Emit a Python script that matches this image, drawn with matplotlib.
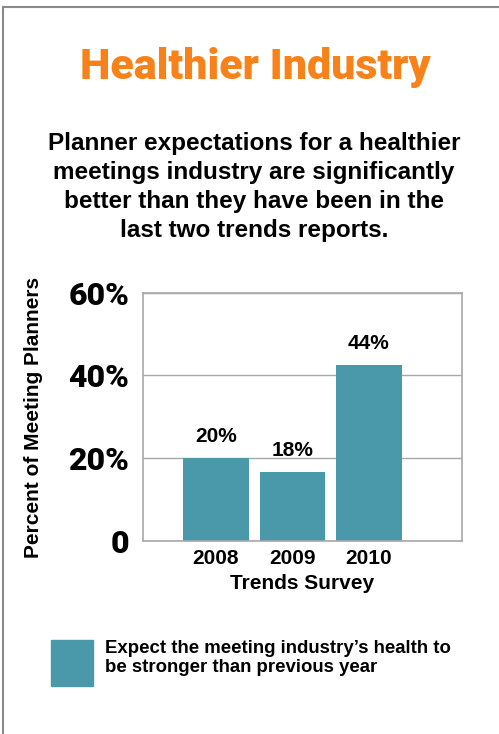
import matplotlib.pyplot as plt
from matplotlib.patches import Rectangle
from matplotlib.lines import Line2D

# Data
years = ["2008", "2009", "2010"]
bar_heights = [20, 16.6, 42.6]
bar_labels = ["20%", "18%", "44%"]
y_ticks = [0, 20, 40, 60]
y_tick_labels = ["0", "20%", "40%", "60%"]

W, H = 499, 734
teal = "#4a99ab"
orange = "#f8821a"
cond = ["Roboto", "Liberation Sans", "DejaVu Sans"]
sans = ["Liberation Sans", "DejaVu Sans"]

fig = plt.figure(figsize=(W / 100, H / 100), dpi=100)

# page border (left and top)
fig.add_artist(Line2D([3 / W, 3 / W], [0, 1 - 6.5 / H], color="#8a8a8a", lw=1.5, transform=fig.transFigure))
fig.add_artist(Line2D([3 / W, 1], [1 - 6.5 / H, 1 - 6.5 / H], color="#8a8a8a", lw=1.5, transform=fig.transFigure))

# title and subtitle
fig.text(255 / W, 1 - 67 / H, "Healthier Industry", color=orange, fontsize=31,
         fontweight="heavy", family=cond, ha="center", va="center")
subtitle = ("Planner expectations for a healthier\nmeetings industry are significantly\n"
            "better than they have been in the\nlast two trends reports.")
fig.text(254 / W, 1 - 187 / H, subtitle, fontsize=17.5, fontweight="bold", family=sans,
         ha="center", va="center", linespacing=1.33)

# chart
ax = fig.add_axes([143 / W, (H - 540.7) / H, 319 / W, 248 / H])
x = range(len(years))
ax.bar(x, bar_heights, width=0.86, color=teal, zorder=2)
ax.set_xlim(-0.953, 3.217)
ax.set_ylim(0, 60)
ax.set_yticks(y_ticks)
ax.set_yticklabels(y_tick_labels, fontsize=23, fontweight="heavy", family=cond)
ax.set_xticks(list(x))
ax.set_xticklabels(years, fontsize=15, fontweight="bold", family=sans)
ax.tick_params(axis="y", length=0, pad=10)
ax.tick_params(axis="x", length=0, pad=6)
ax.grid(axis="y", color="#a8a8a8", lw=1, zorder=1)
for s in ax.spines.values():
    s.set_color("#a8a8a8")
    s.set_linewidth(1.2)

for i, (h, lab) in enumerate(zip(bar_heights, bar_labels)):
    ax.annotate(lab, (i, h), xytext=(0, 12), textcoords="offset pixels", ha="center",
                va="bottom", fontsize=15, fontweight="bold", family=sans)

ax.set_xlabel("Trends Survey", fontsize=15, fontweight="bold", family=sans, labelpad=4)
fig.text(34 / W, 1 - 417 / H, "Percent of Meeting Planners", rotation=90, fontsize=15,
         fontweight="bold", family=sans, ha="center", va="center")

# legend
fig.add_artist(Rectangle((51 / W, 1 - 686 / H), 42 / W, 46 / H, color=teal, transform=fig.transFigure))
fig.text(105 / W, 1 - 658 / H, "Expect the meeting industry\u2019s health to\nbe stronger than previous year",
         fontsize=13.4, fontweight="bold", family=sans, ha="left", va="center", linespacing=1.15)

fig.savefig("out.png", dpi=100)
